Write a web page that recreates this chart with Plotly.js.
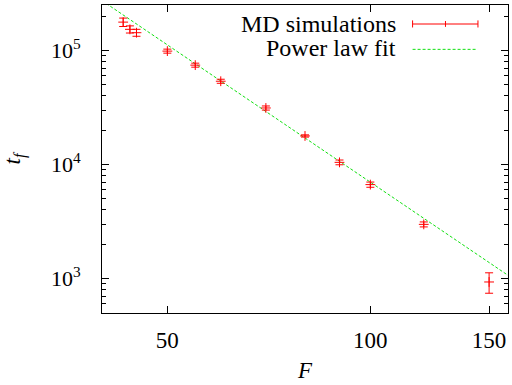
<!DOCTYPE html>
<html>
<head>
<meta charset="utf-8">
<script src="https://cdn.plot.ly/plotly-3.0.1.min.js"></script>
<style>
html,body{margin:0;padding:0;background:#fff;}
#chart{width:512px;height:385px;}
</style>
</head>
<body>
<div id="chart"></div>
<script>
// Data
var forceF = [43, 44, 45, 50, 55, 60, 70, 80, 90, 100, 120, 150];
var timeTf = [177000, 153000, 143000, 98600, 74300, 53700, 31300, 17800, 10450, 6670, 2990, 935];
var timeErr = [15000, 11000, 10000, 4000, 3000, 2200, 1300, 400, 500, 350, 150, 190];
// Power law fit line (straight in log-log), endpoints
var fitF = [40, 160];
var fitTf = [273000, 1070];
// Tick labels
var xTickVals = [50, 100, 150];
var xTickText = ['50', '100', '150'];
var yTickVals = [1000, 10000, 100000];
var yTickText = ['10<sup>3</sup>', '10<sup>4</sup>', '10<sup>5</sup>'];
var legendNames = ['MD simulations', 'Power law fit'];

var yMinor = [];
[100, 1000, 10000, 100000].forEach(function (d) {
  for (var k = 2; k <= 9; k++) yMinor.push(k * d);
});

var FONT = 'Liberation Serif';

var traces = [
  {
    x: fitF, y: fitTf, type: 'scatter', mode: 'lines',
    line: {color: '#11e011', width: 1, dash: '3px,2px'},
    name: legendNames[1], showlegend: false, hoverinfo: 'skip'
  },
  {
    x: forceF, y: timeTf, type: 'scatter', mode: 'markers',
    marker: {symbol: 'cross-thin', size: 7, color: '#ff0000', line: {color: '#ff0000', width: 1}},
    error_y: {type: 'data', array: timeErr, visible: true, color: '#ff0000', thickness: 1, width: 4},
    name: legendNames[0], showlegend: false
  }
];

var layout = {
  width: 512, height: 385,
  margin: {l: 102, r: 4, t: 5, b: 72},
  paper_bgcolor: '#fff', plot_bgcolor: '#fff',
  font: {family: FONT, size: 23, color: '#000'},
  showlegend: false,
  xaxis: {
    type: 'log', range: [Math.log10(40), Math.log10(160)],
    tickmode: 'array', tickvals: xTickVals, ticktext: xTickText,
    ticks: 'inside', ticklen: 7, tickwidth: 1, tickcolor: '#000',
    showline: true, linecolor: '#000', linewidth: 1, mirror: 'ticks',
    showgrid: false, zeroline: false,
    ticklabelstandoff: 6,
    tickfont: {family: FONT, size: 23, color: '#000'},
    title: {text: '<i>F</i>', font: {family: FONT, size: 23, color: '#000'}, standoff: 10}
  },
  yaxis: {
    type: 'log', range: [Math.log10(500), Math.log10(250000)],
    tickmode: 'array', tickvals: yTickVals, ticktext: yTickText,
    ticks: 'inside', ticklen: 7, tickwidth: 1, tickcolor: '#000',
    minor: {tickmode: 'array', tickvals: yMinor, ticks: 'inside', ticklen: 4, tickwidth: 1, tickcolor: '#000', showgrid: false},
    showline: true, linecolor: '#000', linewidth: 1, mirror: 'ticks',
    showgrid: false, zeroline: false,
    ticklabelstandoff: 16,
    tickfont: {family: FONT, size: 22, color: '#000'},
    title: {text: '<i>t<sub>f</sub></i>', font: {family: FONT, size: 23, color: '#000'}, standoff: 24}
  },
  annotations: [
    {xref: 'paper', yref: 'paper', x: 0.729, y: 0.938, xanchor: 'right', yanchor: 'middle',
     text: legendNames[0], showarrow: false, font: {family: FONT, size: 24, color: '#000'}},
    {xref: 'paper', yref: 'paper', x: 0.729, y: 0.860, xanchor: 'right', yanchor: 'middle',
     text: legendNames[1], showarrow: false, font: {family: FONT, size: 24, color: '#000'}}
  ],
  shapes: [
    {type: 'line', xref: 'paper', yref: 'paper', x0: 0.765, x1: 0.926, y0: 0.9383, y1: 0.9383, line: {color: '#ff0000', width: 1}},
    {type: 'line', xref: 'paper', yref: 'paper', x0: 0.765, x1: 0.765, y0: 0.927, y1: 0.950, line: {color: '#ff0000', width: 1}},
    {type: 'line', xref: 'paper', yref: 'paper', x0: 0.926, x1: 0.926, y0: 0.927, y1: 0.950, line: {color: '#ff0000', width: 1}},
    {type: 'line', xref: 'paper', yref: 'paper', x0: 0.846, x1: 0.846, y0: 0.929, y1: 0.948, line: {color: '#ff0000', width: 1}},
    {type: 'line', xref: 'paper', yref: 'paper', x0: 0.765, x1: 0.923, y0: 0.856, y1: 0.856, line: {color: '#11e011', width: 1, dash: '3px,2px'}}
  ]
};

Plotly.newPlot('chart', traces, layout, {staticPlot: true, displayModeBar: false});
</script>
</body>
</html>
